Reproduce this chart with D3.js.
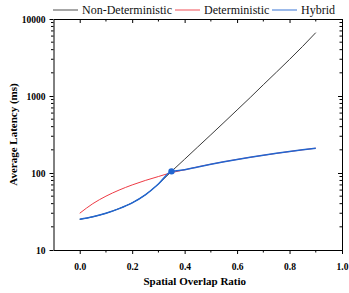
<!DOCTYPE html>
<html>
<head>
<meta charset="utf-8">
<script src="https://cdn.jsdelivr.net/npm/d3@7"></script>
<style>
    html, body { margin: 0; padding: 0; background: #fff; }
    svg { display: block; }
</style>
</head>
<body>
<div id="chart"></div>
<script>
// values
const overlap = [0.0, 0.05, 0.1, 0.15, 0.2, 0.25, 0.3, 0.35, 0.4, 0.45, 0.5, 0.55, 0.6, 0.65, 0.7, 0.75, 0.8, 0.85, 0.9];
const nonDeterministic = [25, 27, 30, 34.5, 41, 52, 72, 105, 151, 218, 314, 454, 658, 955, 1400, 2040, 2985, 4415, 6650];
const deterministic = [30, 40, 50, 60, 70, 80, 90, 101, 110, 120, 130, 140, 150, 160, 170, 180, 190, 200, 210];
const hybrid = [25, 27, 30, 34.5, 41, 52, 72, 105, 110, 120, 130, 140, 150, 160, 170, 180, 190, 200, 210];
const switchPoint = { x: 0.35, y: 105 };
const xTicks = [0.0, 0.2, 0.4, 0.6, 0.8, 1.0];
const yTicks = [10, 100, 1000, 10000];

const font = "'Liberation Serif', 'Times New Roman', Times, serif";

const width = 349;
const height = 293;
const marginTop = 19;
const marginRight = 7;
const marginBottom = 43;
const marginLeft = 53.5;

const x = d3.scaleLinear()
    .domain([-0.1, 1.0])
    .range([marginLeft, width - marginRight]);

const y = d3.scaleLog()
    .domain([10, 10000])
    .range([height - marginBottom, marginTop]);

const svg = d3.select('#chart').append('svg')
    .attr('width', width)
    .attr('height', height)
    .attr('viewBox', [0, 0, width, height])
    .attr('font-family', font);

const minorY = [];
[10, 100, 1000].forEach(d => {
    for (let k = 2; k <= 9; k++) minorY.push(d * k);
});
const minorX = d3.range(0, 11).map(i => i / 10).filter(v => !xTicks.some(t => Math.abs(t - v) < 1e-9));

// bottom axis
const bottomAxis = svg.append('g')
    .attr('transform', `translate(0,${height - marginBottom})`);
bottomAxis.call(d3.axisBottom(x).tickValues(xTicks).tickFormat(d3.format('.1f')).tickSize(4).tickSizeOuter(0))
    .attr('font-family', font)
    .call(g => g.selectAll('text').attr('font-weight', 'bold').attr('font-size', 9.5).attr('dy', '1.35em'));
bottomAxis.selectAll('.minor')
    .data(minorX)
    .join('line')
    .attr('class', 'minor')
    .attr('x1', d => x(d)).attr('x2', d => x(d))
    .attr('y1', 0).attr('y2', 2.5)
    .attr('stroke', 'currentColor');

// left axis
const leftAxis = svg.append('g')
    .attr('transform', `translate(${marginLeft},0)`);
leftAxis.call(d3.axisLeft(y).tickValues(yTicks).tickFormat(d3.format('d')).tickSize(4).tickSizeOuter(0))
    .attr('font-family', font)
    .call(g => g.selectAll('text').attr('font-weight', 'bold').attr('font-size', 9.5).attr('x', -8));
leftAxis.selectAll('.minor')
    .data(minorY)
    .join('line')
    .attr('class', 'minor')
    .attr('y1', d => y(d)).attr('y2', d => y(d))
    .attr('x1', 0).attr('x2', -2.5)
    .attr('stroke', 'currentColor');

// top and right mirror axes, ticks inward
const topAxis = svg.append('g')
    .attr('transform', `translate(0,${marginTop})`);
topAxis.call(d3.axisTop(x).tickValues(xTicks).tickFormat('').tickSize(-4).tickSizeOuter(0));
topAxis.selectAll('.minor')
    .data(minorX)
    .join('line')
    .attr('class', 'minor')
    .attr('x1', d => x(d)).attr('x2', d => x(d))
    .attr('y1', 0).attr('y2', 2.5)
    .attr('stroke', 'currentColor');

const rightAxis = svg.append('g')
    .attr('transform', `translate(${width - marginRight},0)`);
rightAxis.call(d3.axisRight(y).tickValues(yTicks).tickFormat('').tickSize(-4).tickSizeOuter(0));
rightAxis.selectAll('.minor')
    .data(minorY)
    .join('line')
    .attr('class', 'minor')
    .attr('y1', d => y(d)).attr('y2', d => y(d))
    .attr('x1', 0).attr('x2', -2.5)
    .attr('stroke', 'currentColor');

// axis titles
svg.append('text')
    .attr('x', (marginLeft + width - marginRight) / 2 - 3)
    .attr('y', 285)
    .attr('text-anchor', 'middle')
    .attr('font-weight', 'bold')
    .attr('font-size', 11)
    .text('Spatial Overlap Ratio');

svg.append('text')
    .attr('transform', `translate(17,${(marginTop + height - marginBottom) / 2}) rotate(-90)`)
    .attr('text-anchor', 'middle')
    .attr('font-weight', 'bold')
    .attr('font-size', 11)
    .text('Average Latency (ms)');

// series
const series = [
    { name: 'Non-Deterministic', values: nonDeterministic, color: '#3a3a3a', width: 1 },
    { name: 'Deterministic', values: deterministic, color: '#ee3b45', width: 1 },
    { name: 'Hybrid', values: hybrid, color: '#2166d1', width: 1.5 },
];

const line = d3.line()
    .x(d => x(d[0]))
    .y(d => y(d[1]))
    .curve(d3.curveMonotoneX);

svg.append('g')
    .attr('fill', 'none')
    .selectAll('path')
    .data(series)
    .join('path')
    .attr('stroke', d => d.color)
    .attr('stroke-width', d => d.width)
    .attr('d', d => line(overlap.map((v, i) => [v, d.values[i]])));

svg.append('circle')
    .attr('cx', x(switchPoint.x))
    .attr('cy', y(switchPoint.y))
    .attr('r', 3.2)
    .attr('fill', '#2166d1');

// legend
const legendX = [53, 175, 272];
const legend = svg.append('g')
    .selectAll('g')
    .data(series)
    .join('g')
    .attr('transform', (d, i) => `translate(${legendX[i]},10)`);

legend.append('line')
    .attr('x1', 0).attr('x2', 25)
    .attr('stroke', d => d.color)
    .attr('stroke-opacity', 0.6)
    .attr('stroke-width', 1.5);

legend.append('text')
    .attr('x', 29)
    .attr('dy', '0.35em')
    .attr('font-size', 12)
    .attr('fill', '#111')
    .text(d => d.name);
</script>
</body>
</html>
